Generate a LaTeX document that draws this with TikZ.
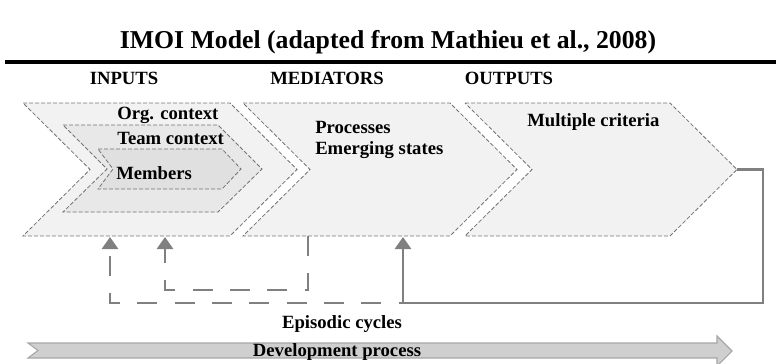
\documentclass[tikz,border=0pt]{standalone}
\usepackage{fontspec}
\setmainfont{Liberation Serif}
\usetikzlibrary{arrows.meta}

\begin{document}
\begin{tikzpicture}[x=0.75pt,y=0.75pt,yscale=-1,xscale=1,
  chev/.style={draw=black!55,dash pattern=on 3pt off 1.5pt,line width=0.6pt},
  lbl/.style={anchor=west,inner sep=0.75pt,font=\fontsize{14}{16}\selectfont\bfseries},
  hdr/.style={inner sep=0.75pt,font=\fontsize{14}{16}\selectfont\bfseries},
  fb/.style={draw=black!50,line width=2.2pt},
  fbdash/.style={fb,dash pattern=on 15pt off 13pt},
  up/.style={-{Triangle[width=12pt,length=9pt]}}]

\useasboundingbox (0,0) rectangle (776,364);

% title and rule
\node (title) at (388,42) [inner sep=0.75pt,font=\fontsize{19.3}{22}\selectfont\bfseries] {IMOI Model (adapted from Mathieu et al., 2008)};
\draw [line width=2.4pt] (5,62) -- (776,62);

% column heads
\node (inH) at (124,78) [hdr] {INPUTS};
\node (medH) at (327,78) [hdr] {MEDIATORS};
\node (outH) at (509,78) [hdr] {OUTPUTS};

% chevrons
\draw [chev,fill=black!5] (23,103) -- (230,103) -- (297,169.5) -- (230,236) -- (23,236) -- (90,169.5) -- cycle ;
\draw [chev,fill=black!9] (63,125) -- (218,125) -- (262,169) -- (218,212) -- (63,212) -- (107,169) -- cycle ;
\draw [chev,fill=black!12] (98,149) -- (222,149) -- (241,169) -- (222,189) -- (98,189) -- (113,169) -- cycle ;
\draw [chev,fill=black!5] (243,103) -- (450,103) -- (517,169.5) -- (450,236) -- (243,236) -- (310,169.5) -- cycle ;
\draw [chev,fill=black!5] (465,103) -- (670,103) -- (737,169.5) -- (670,236) -- (465,236) -- (532,169.5) -- cycle ;

% labels
\node (org) at (116,115) [lbl] {Org. context};
\node (team) at (116,138) [lbl] {Team context};
\node (mem) at (115,173) [lbl] {Members};
\node (proc) at (314,127) [lbl] {Processes};
\node (emer) at (314,150) [lbl] {Emerging states};
\node (mult) at (526,122) [lbl] {Multiple criteria};

% feedback loops
\coordinate (outTip) at (737,169.5);
\coordinate (outCorner) at (763,303);
\coordinate (fbJoin) at (403,303);
\coordinate (medIn) at (403,237);
\coordinate (medOut) at (308,236);
\coordinate (medLow) at (165,290);
\coordinate (inA) at (110,237);
\coordinate (inB) at (165,237);

\draw [fb] (outTip) -| (outCorner) -- (fbJoin);
\draw [fb,up] (fbJoin) -- (medIn);
\draw [fbdash,dash phase=11.75pt,up] (fbJoin) -| (inA);
\draw [fbdash,up] (medOut) |- (medLow) -- (inB);

\node (epi) at (342,324) [hdr] {Episodic cycles};

% development arrow
\draw [draw=black!35,fill=black!19,line width=0.8pt] (28,343) -- (717,343) -- (717,336) -- (732,351) -- (717,366) -- (717,358) -- (28,358) -- (38,350.5) -- cycle ;
\node (dev) at (337,352) [hdr] {Development process};

\end{tikzpicture}
\end{document}
